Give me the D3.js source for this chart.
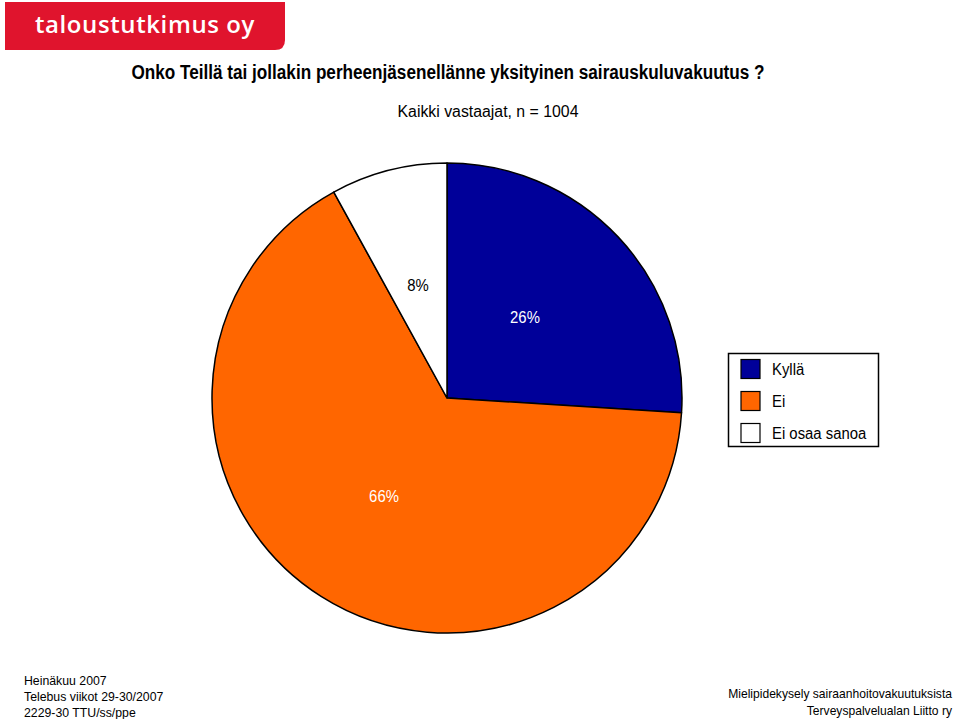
<!DOCTYPE html>
<html><head><meta charset="utf-8">
<script src="https://cdn.jsdelivr.net/npm/d3@7"></script>
<style>body{margin:0;background:#fff}svg{display:block}text{font-family:"Liberation Sans",Arial,sans-serif}</style>
</head><body><svg id="c" width="959" height="719"></svg>
<script>
const categories = ["Kyllä", "Ei", "Ei osaa sanoa"];
const values = [26, 66, 8];
const labels = ["26%", "66%", "8%"];
const colors = ["#000099", "#ff6600", "#ffffff"];
const labelColors = ["#ffffff", "#ffffff", "#000000"];

const svg = d3.select("#c");
function squeeze(sel, f) {
  sel.each(function () {
    const w = this.getComputedTextLength();
    d3.select(this).attr("textLength", w * f).attr("lengthAdjust", "spacingAndGlyphs");
  });
  return sel;
}
// logo
svg.append("path")
  .attr("d", "M5,2 H285 V40 Q285,50 275,50 H5 Z")
  .attr("fill", "#e0142d");
svg.append("text").attr("x", 145).attr("y", 33).attr("text-anchor", "middle")
  .attr("fill", "#fff").attr("font-size", 24).attr("font-weight", 600)
  .style("font-family", "'Open Sans',sans-serif").attr("letter-spacing", 0.6)
  .text("taloustutkimus oy");

squeeze(svg.append("text").attr("x", 448).attr("y", 79).attr("text-anchor", "middle")
  .attr("font-size", 20).attr("font-weight", "bold").text("Onko Teillä tai jollakin perheenjäsenellänne yksityinen sairauskuluvakuutus ?"), 0.857);
squeeze(svg.append("text").attr("x", 488).attr("y", 117).attr("text-anchor", "middle")
  .attr("font-size", 16).text("Kaikki vastaajat, n = 1004"), 0.99);

const cx = 447, cy = 398, r = 235;
const pie = d3.pie().sort(null).value(d => d)(values);
const arc = d3.arc().innerRadius(0).outerRadius(r);
const g = svg.append("g").attr("transform", `translate(${cx},${cy})`);
g.selectAll("path").data(pie).join("path")
  .attr("d", arc).attr("fill", (d, i) => colors[i])
  .attr("stroke", "#000").attr("stroke-width", 1.5).attr("stroke-linejoin", "round");
const labelPos = [[78, -80], [-63, 99], [-29, -112]];
squeeze(g.selectAll("text.lbl").data(pie).join("text").attr("class", "lbl")
  .attr("x", (d, i) => labelPos[i][0]).attr("y", (d, i) => labelPos[i][1] + 5)
  .attr("text-anchor", "middle").attr("font-size", 16)
  .attr("fill", (d, i) => labelColors[i]).text((d, i) => labels[i]), 0.93);

// legend
const lg = svg.append("g");
lg.append("rect").attr("x", 728.5).attr("y", 353.5).attr("width", 150).attr("height", 93)
  .attr("fill", "#fff").attr("stroke", "#000").attr("stroke-width", 1.5);
categories.forEach((c, i) => {
  const y = 369 + i * 32;
  lg.append("rect").attr("x", 741).attr("y", y - 9.5).attr("width", 19).attr("height", 19)
    .attr("fill", colors[i]).attr("stroke", "#000").attr("stroke-width", 1.2);
  squeeze(lg.append("text").attr("x", 772).attr("y", y + 6).attr("font-size", 16).text(c), 0.93);
});

// footers
const leftFoot = ["Heinäkuu 2007", "Telebus viikot 29-30/2007", "2229-30 TTU/ss/ppe"];
leftFoot.forEach((t, i) => squeeze(svg.append("text").attr("x", 24).attr("y", 685 + i * 16)
  .attr("font-size", 13).text(t), 0.945));
const rightFoot = ["Mielipidekysely sairaanhoitovakuutuksista", "Terveyspalvelualan Liitto ry"];
rightFoot.forEach((t, i) => svg.append("text").attr("x", 952).attr("y", 698 + i * 17)
  .attr("text-anchor", "end").attr("font-size", 12.1).text(t));
</script></body></html>
